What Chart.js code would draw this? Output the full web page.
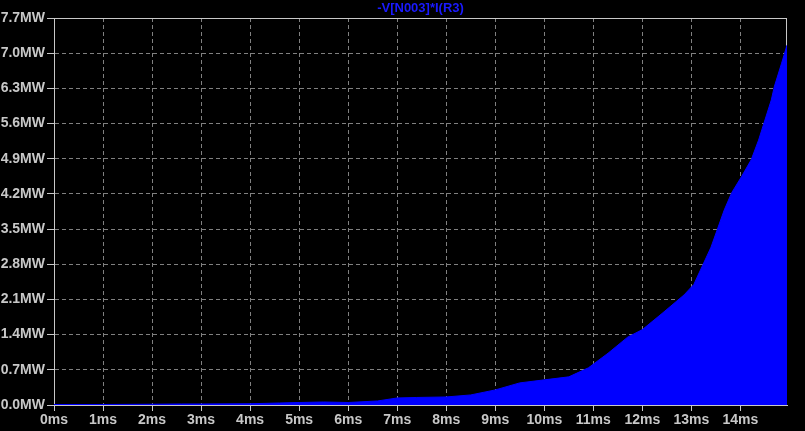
<!DOCTYPE html>
<html>
<head>
<meta charset="utf-8">
<script src="https://cdn.jsdelivr.net/npm/chart.js"></script>
<style>
  body { margin: 0; background: #000; }
  #powerChart { display: block; background: #000; }
</style>
</head>
<body>
<canvas id="powerChart" width="805" height="431"></canvas>
<script>
// envelope of the trace (time in ms, power in MW)
var timeMs = [0, 1, 2, 2.6, 3, 4, 4.6, 5, 5.5, 6, 6.6, 7, 7.4, 8, 8.5, 9, 9.5, 10, 10.5, 10.9,
              11.3, 11.7, 12, 12.4, 12.85, 13.05, 13.4, 13.67, 13.82, 14.02, 14.22, 14.37,
              14.5, 14.63, 14.69, 14.84, 14.95];
var powerMW = [0.01, 0.01, 0.015, 0.02, 0.02, 0.025, 0.04, 0.05, 0.06, 0.05, 0.08, 0.14, 0.15,
               0.16, 0.2, 0.3, 0.44, 0.5, 0.56, 0.74, 1.03, 1.35, 1.5, 1.82, 2.19, 2.4, 3.14,
               3.88, 4.22, 4.54, 4.88, 5.27, 5.67, 6.07, 6.33, 6.8, 7.16];

var xTicks = [0, 1, 2, 3, 4, 5, 6, 7, 8, 9, 10, 11, 12, 13, 14];
var yTicks = [0, 0.7, 1.4, 2.1, 2.8, 3.5, 4.2, 4.9, 5.6, 6.3, 7.0, 7.7];
var traceName = '-V[N003]*I(R3)';

var labelColor = '#c8c8c8';
var gridColor = '#808080';

// frame round the plot area (top and right sides)
var framePlugin = {
    id: 'frame',
    beforeDatasetsDraw: function(chart) {
        var a = chart.chartArea;
        var ctx = chart.ctx;
        ctx.save();
        ctx.strokeStyle = labelColor;
        ctx.lineWidth = 1;
        ctx.strokeRect(a.left + 0.5, a.top + 0.5, a.right - a.left - 1, a.bottom - a.top);
        ctx.restore();
    }
};

var points = timeMs.map(function(t, i) {
    return { x: t, y: powerMW[i] };
});

var ctx = document.getElementById('powerChart').getContext('2d');
new Chart(ctx, {
    type: 'line',
    data: {
        datasets: [{
            label: traceName,
            data: points,
            borderColor: '#0000ff',
            backgroundColor: '#0000ff',
            borderWidth: 1,
            pointRadius: 0,
            tension: 0,
            fill: 'origin'
        }]
    },
    options: {
        responsive: false,
        animation: false,
        layout: { padding: { right: 18 } },
        plugins: {
            legend: { display: false },
            tooltip: { enabled: false },
            title: {
                display: true,
                text: traceName,
                fullSize: false,
                color: '#1a1aff',
                font: { family: 'Liberation Sans', size: 13, weight: 'bold', lineHeight: 1.2 },
                padding: { top: 1, bottom: 1.4 }
            }
        },
        scales: {
            x: {
                type: 'linear',
                min: 0,
                max: 14.95,
                afterBuildTicks: function(scale) {
                    scale.ticks = xTicks.map(function(v) { return { value: v }; });
                },
                afterFit: function(scale) { scale.height = 26; },
                ticks: {
                    color: labelColor,
                    font: { family: 'Liberation Sans', size: 14, weight: 'bold' },
                    padding: 1,
                    maxRotation: 0,
                    autoSkip: false,
                    callback: function(v) { return v + 'ms'; }
                },
                grid: { color: gridColor, tickColor: labelColor, tickLength: 6 },
                border: { color: labelColor, dash: [4, 3] }
            },
            y: {
                min: 0,
                max: 7.7,
                afterBuildTicks: function(scale) {
                    scale.ticks = yTicks.map(function(v) { return { value: v }; });
                },
                afterFit: function(scale) { scale.width = 54; },
                ticks: {
                    color: labelColor,
                    font: { family: 'Liberation Sans', size: 14, weight: 'bold' },
                    padding: 2,
                    autoSkip: false,
                    callback: function(v) { return v.toFixed(1) + 'MW'; }
                },
                grid: { color: gridColor, tickColor: labelColor, tickLength: 7 },
                border: { color: labelColor, dash: [4, 3] }
            }
        }
    },
    plugins: [framePlugin]
});
</script>
</body>
</html>
